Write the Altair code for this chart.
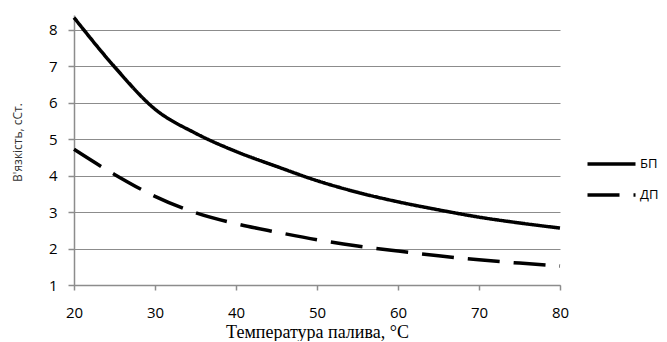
import altair as alt
import pandas as pd

temps = [20, 25, 30, 35, 40, 45, 50, 55, 60, 65, 70, 75, 80]
bp = [8.33, 6.98, 5.82, 5.16, 4.66, 4.25, 3.86, 3.54, 3.28, 3.06, 2.86, 2.70, 2.56]
dp = [4.72, 4.03, 3.43, 2.98, 2.68, 2.45, 2.24, 2.07, 1.93, 1.80, 1.69, 1.60, 1.52]
series = ["БП", "ДП"]
x_ticks = [20, 30, 40, 50, 60, 70, 80]
y_ticks = [1, 2, 3, 4, 5, 6, 7, 8]

rows = []
for name, vals in zip(series, [bp, dp]):
    for t, v in zip(temps, vals):
        rows.append({"t": t, "v": v, "s": name})
df = pd.DataFrame(rows)

grid_color = "#8c8c8c"

chart = alt.Chart(df).mark_line(
    color="black", strokeWidth=3.5, interpolate="monotone", strokeCap="butt"
).encode(
    x=alt.X("t:Q", scale=alt.Scale(domain=[20, 80], nice=False),
            axis=alt.Axis(values=x_ticks, title="Температура палива, °C", grid=False,
                          tickSize=5, labelPadding=15, labelFontSize=15,
                          labelFlush=False,
                          titleFont="Liberation Serif", titleFontSize=18,
                          titleFontWeight="normal", titleY=52,
                          titleBaseline="alphabetic", titleColor="black")),
    y=alt.Y("v:Q", scale=alt.Scale(domain=[1, 8.4], nice=False, zero=False),
            axis=alt.Axis(values=y_ticks, title="В'язкість, сСт.", grid=True,
                          tickSize=6, labelPadding=11, labelFontSize=15,
                          titleFontSize=12, titleFontWeight="normal",
                          titleX=-57, titleY=127, titleAngle=-90,
                          titleBaseline="middle", titleAlign="center",
                          titleColor="#333333")),
    strokeDash=alt.StrokeDash("s:N",
        scale=alt.Scale(domain=series, range=[[1, 0], [32, 14]]),
        legend=alt.Legend(title=None, orient="none", legendX=507, legendY=142.5,
                          symbolType="M0,0H16", symbolSize=36, symbolStrokeWidth=3.5,
                          symbolStrokeColor="black", labelFontSize=13, labelOffset=46,
                          rowPadding=16, padding=0, labelColor="black")),
).properties(
    width=486, height=270,
    padding={"left": 66, "top": 7, "right": 99, "bottom": 56},
    autosize=alt.AutoSizeParams(type="none"),
).configure_view(
    stroke=None
).configure_axis(
    domainColor=grid_color, domainWidth=1.5, tickColor=grid_color, tickWidth=1.5,
    gridColor=grid_color, gridWidth=1, labelFont="Open Sans",
    labelColor="black", titleFont="Open Sans"
).configure_legend(
    labelFont="Open Sans"
)

chart.save("out.html", embed_options={"renderer": "svg", "actions": False})
